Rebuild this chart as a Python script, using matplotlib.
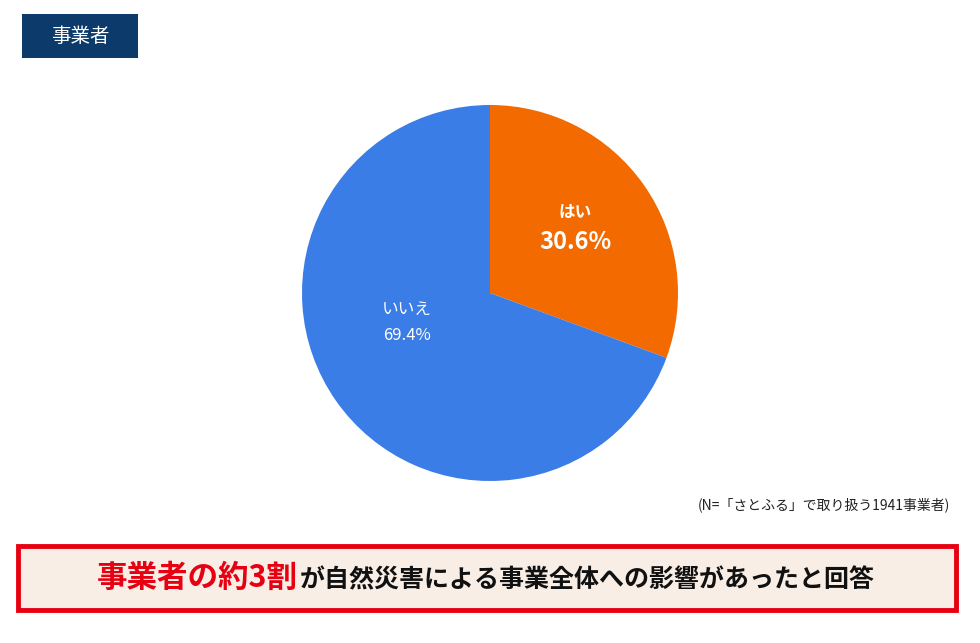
import matplotlib
matplotlib.use("Agg")
import matplotlib.pyplot as plt
from matplotlib.patches import Rectangle

plt.rcParams['font.family'] = ['Noto Sans CJK JP', 'DejaVu Sans']

labels = ["はい", "いいえ"]
values = [30.6, 69.4]
colors = ["#F26A00", "#3B7DE6"]

W, H = 980, 643
fig = plt.figure(figsize=(W/100, H/100), dpi=100)
cx, cy, r = 490, 293, 188
ax = fig.add_axes([(cx-r)/W, (H-cy-r)/H, 2*r/W, 2*r/H])
ax.pie(values, colors=colors, startangle=90, counterclock=False,
       wedgeprops=dict(linewidth=0))
ax.set_aspect('equal')
ax.set_xlim(-1, 1); ax.set_ylim(-1, 1)

def fx(x): return x/W
def fy(y): return 1 - y/H

fig.text(fx(575), fy(213), "はい", color="white", fontsize=12, fontweight="bold", ha="center", va="center")
fig.text(fx(575), fy(242), "30.6%", color="white", fontsize=17, fontweight="bold", ha="center", va="center")
fig.text(fx(407), fy(309), "いいえ", color="white", fontsize=12, ha="center", va="center")
fig.text(fx(407), fy(336), "69.4%", color="white", fontsize=12, ha="center", va="center")

fig.patches.append(Rectangle((fx(22), fy(58)), 116/W, 44/H, transform=fig.transFigure,
                             facecolor="#0B3A6B", edgecolor="none"))
fig.text(fx(80), fy(36), "事業者", color="white", fontsize=14, ha="center", va="center")

fig.text(fx(950), fy(505), "(N=「さとふる」で取り扱う1941事業者)", color="#222222", fontsize=10,
         ha="right", va="center")

fig.patches.append(Rectangle((fx(18), fy(610)), 938/W, 64/H, transform=fig.transFigure,
                             facecolor="#F8EEE6", edgecolor="#E60012", linewidth=3.5))
fig.text(fx(298), fy(578), "事業者の約3割", color="#E60012", fontsize=22, fontweight="bold",
         ha="right", va="center")
fig.text(fx(300), fy(580), "が自然災害による事業全体への影響があったと回答", color="#111111",
         fontsize=18, fontweight="bold", ha="left", va="center")

fig.savefig("out.png", dpi=100, facecolor="white")
